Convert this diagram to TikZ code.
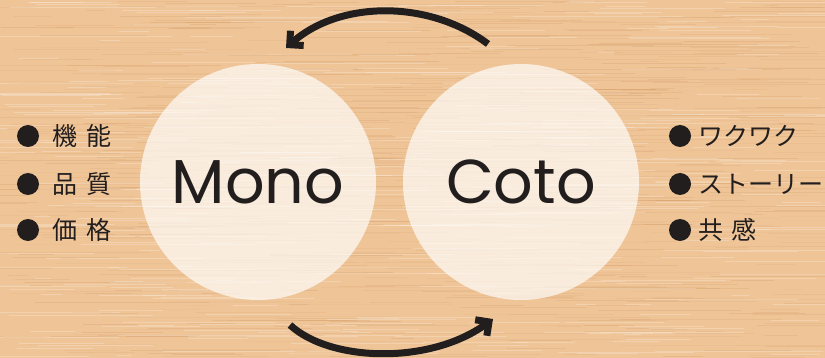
\documentclass[tikz,border=0pt]{standalone}
\usepackage{fontspec}
\usetikzlibrary{arrows.meta}
\newfontfamily\jp{Noto Sans CJK JP}
\newfontfamily\geo{Poppins}
\definecolor{wood}{RGB}{239,197,152}
\definecolor{grain}{RGB}{200,140,85}
\definecolor{ink}{RGB}{35,30,30}
\begin{document}
\begin{tikzpicture}[x=1pt,y=-1pt,
  bubble/.style={circle, fill=white, fill opacity=0.68, text opacity=1,
    minimum size=236pt, inner sep=0pt, text=ink,
    font=\geo\fontsize{62}{62}\selectfont},
  cycarrow/.style={draw=ink, line width=7pt,
    -{Straight Barb[angle=90:14pt, sharp]}},
  dot/.style={circle, fill=ink, minimum size=22pt, inner sep=0pt},
  item/.style={anchor=west, inner sep=0pt, text=ink,
    font=\jp\fontsize{25}{25}\selectfont}
]
\fill[wood] (0,0) rectangle (825,358);
\useasboundingbox (0,0) rectangle (825,358);
\begin{scope}
\clip (0,0) rectangle (825,358);
\pgfmathsetseed{7}
\foreach \i in {1,...,700}{
  \pgfmathsetmacro\yy{rnd*358}
  \pgfmathsetmacro\xx{rnd*825-40}
  \pgfmathsetmacro\ll{15+rnd*160}
  \pgfmathsetmacro\oo{0.06+rnd*0.16}
  \draw[grain, line width=0.5pt, opacity=\oo] (\xx,\yy) -- ++(\ll,0);
}
\foreach \i in {1,...,350}{
  \pgfmathsetmacro\yy{rnd*358}
  \pgfmathsetmacro\xx{rnd*825-40}
  \pgfmathsetmacro\ll{15+rnd*160}
  \draw[white, line width=0.6pt, opacity=0.22] (\xx,\yy) -- ++(\ll,0);
}
\end{scope}

\node[bubble] (mono) at (258,182) {Mono};
\node[bubble] (coto) at (521,182) {Coto};

\coordinate (ts) at (488,44);
\coordinate (te) at (286,48);
\coordinate (bs) at (290,325);
\coordinate (be) at (493,319);
\draw[cycarrow] (ts) .. controls (430,0) and (340,0) .. (te);
\draw[cycarrow] (bs) .. controls (330,362) and (430,365) .. (be);

\node[dot] (d1) at (28,136) {};
\node[dot] (d2) at (28,184) {};
\node[dot] (d3) at (28,230) {};
\node[item] (l1) at (52,136) {機\hspace{9pt}能};
\node[item] (l2) at (52,184) {品\hspace{9pt}質};
\node[item] (l3) at (52,230) {価\hspace{9pt}格};

\node[dot] (e1) at (680,136) {};
\node[dot] (e2) at (680,184) {};
\node[dot] (e3) at (680,230) {};
\node[item] (r1) at (698,136) {ワクワク};
\node[item] (r2) at (698,184) {ストーリー};
\node[item] (r3) at (698,230) {共\hspace{8pt}感};
\end{tikzpicture}
\end{document}
